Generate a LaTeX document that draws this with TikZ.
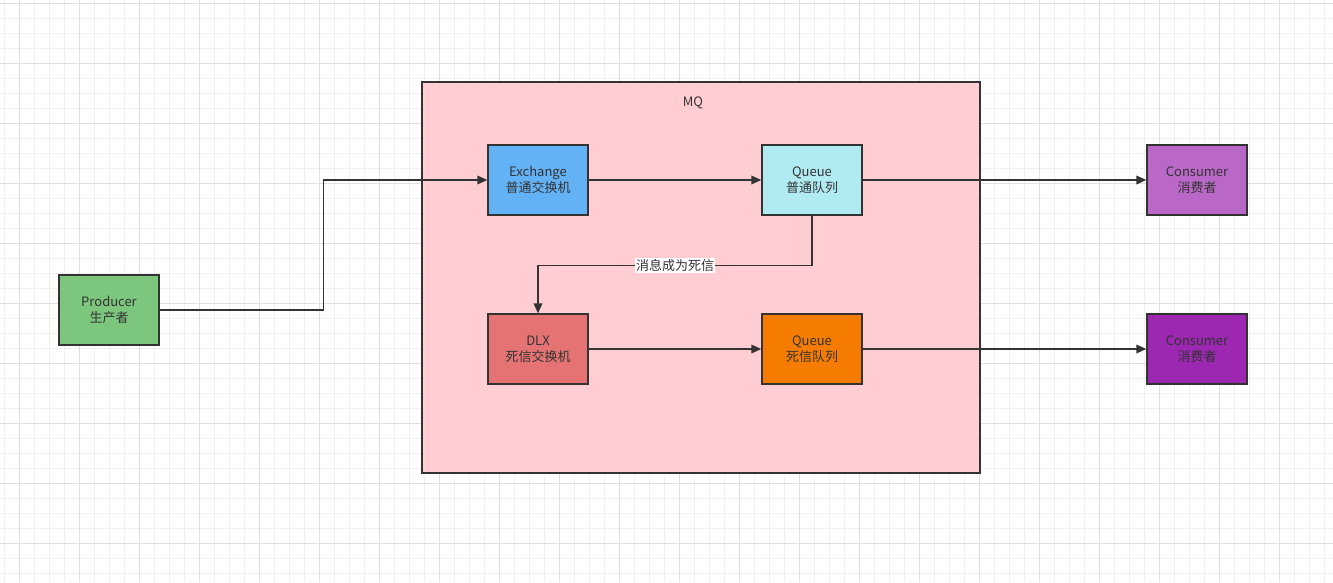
\documentclass[tikz,border=0pt]{standalone}
\usepackage{fontspec}
\setmainfont{Noto Sans CJK SC}
\usetikzlibrary{arrows.meta,calc}
\definecolor{gridminor}{HTML}{F0F0F0}
\definecolor{gridmajor}{HTML}{E0E0E0}
\definecolor{edgegray}{HTML}{333333}
\definecolor{mqpink}{HTML}{FFCDD2}
\definecolor{prodgreen}{HTML}{7DC67E}
\definecolor{exblue}{HTML}{63B2F5}
\definecolor{qcyan}{HTML}{B0EBF2}
\definecolor{dlxred}{HTML}{E57373}
\definecolor{qorange}{HTML}{F57C00}
\definecolor{conlilac}{HTML}{BA68C8}
\definecolor{conpurple}{HTML}{9C27B0}
\tikzset{
  box/.style={draw=edgegray, line width=1pt, minimum width=75pt, minimum height=52.5pt,
    inner sep=0pt, align=center, text=edgegray, font=\fontsize{9.75}{12}\selectfont},
  flow/.style={draw=edgegray, line width=1pt, -{Triangle[length=7.5pt,width=6.5pt]}},
  tag/.style={fill=white, inner sep=1pt, text=edgegray, font=\fontsize{9.75}{12}\selectfont}
}

\begin{document}
\begin{tikzpicture}[x=0.75pt, y=-0.75pt]
			%%%%% START %%%%%
			\useasboundingbox (0,0) rectangle (1333,582);
			\fill[white] (0,0) rectangle (1333,582);
			
			% background grid
			\foreach \gx in {4.3,19.3,...,1333} \draw[gridminor, line width=0.75pt] (\gx,0) -- (\gx,582);
			\foreach \gy in {3.3,18.3,...,582} \draw[gridminor, line width=0.75pt] (0,\gy) -- (1333,\gy);
			\foreach \gx in {19.3,79.3,...,1333} \draw[gridmajor, line width=0.75pt] (\gx,0) -- (\gx,582);
			\foreach \gy in {3.3,63.3,...,582} \draw[gridmajor, line width=0.75pt] (0,\gy) -- (1333,\gy);
			
			% container
			\node[draw=edgegray, fill=mqpink, line width=1pt, minimum width=418.5pt, minimum height=293.25pt] (mq) at (701, 277.5) {};
			\node[text=edgegray, font=\fontsize{9.75}{12}\selectfont] (mqlabel) at (693, 103) {MQ};
			
			% boxes
			\node[box, fill=prodgreen] (producer) at (109, 310) {Producer\\生产者};
			\node[box, fill=exblue] (exchange) at (538, 180) {Exchange\\普通交换机};
			\node[box, fill=qcyan] (queue) at (812, 180) {Queue\\普通队列};
			\node[box, fill=dlxred] (dlx) at (538, 349) {DLX\\死信交换机};
			\node[box, fill=qorange] (dlq) at (812, 349) {Queue\\死信队列};
			\node[box, fill=conlilac] (consumer) at (1197, 180) {Consumer\\消费者};
			\node[box, fill=conpurple] (dlconsumer) at (1197, 349) {Consumer\\消费者};
			
			% connectors
			\draw[flow] (producer.east) -| ($(producer.east)!0.5!(exchange.west)$) |- (exchange.west);
			\draw[flow] (exchange) -- (queue);
			\draw[flow] (queue) -- (consumer);
			\draw[flow] (queue.south) -- ++(0,50) -| (dlx.north) node[tag, pos=0.25] (deadtag) {消息成为死信};
			\draw[flow] (dlx) -- (dlq);
			\draw[flow] (dlq) -- (dlconsumer);
			
			%%%%% END %%%%%
		\end{tikzpicture}
\end{document}
